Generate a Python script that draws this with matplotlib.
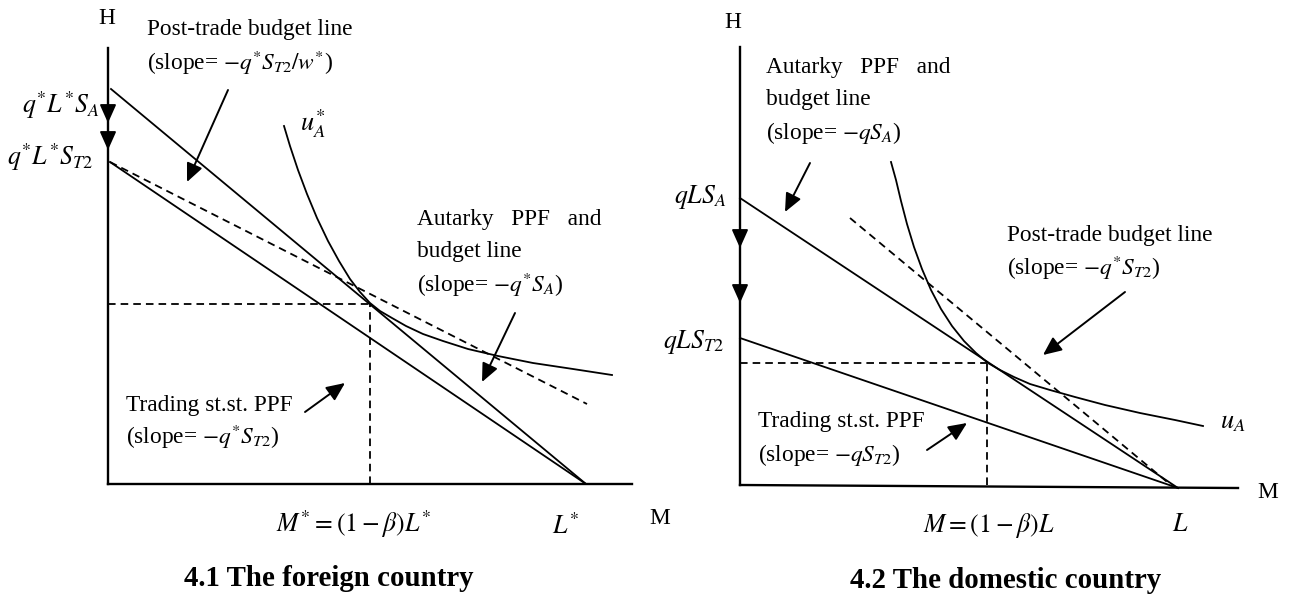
import matplotlib
matplotlib.use("Agg")
import matplotlib.pyplot as plt

plt.rcParams['font.family'] = ['Liberation Serif', 'DejaVu Serif']
plt.rcParams['mathtext.fontset'] = 'stix'

W, H = 1295, 601

# --- panel 4.1: foreign country (units = pixels from the origin) ---
f_h_top = 436
f_m_end = 524
f_SA = 395          # q*L*S_A
f_ST2 = 322         # q*L*S_T2
f_L = 478           # L*
f_Mstar = 262       # M* = (1-beta)L*
f_Hstar = 180
f_autarky_x = [3, f_L]
f_autarky_y = [f_SA, 0]
f_trade_x = [2, f_L]
f_trade_y = [f_ST2, 0]
f_post_x = [2, 479]
f_post_y = [f_ST2, 80]
f_ic_x = [176, 182, 190, 199, 209, 220, 231, 242, 252, 262, 272, 284, 298,
          315, 335, 360, 390, 425, 465, 504]
f_ic_y = [358, 338, 314, 290, 266, 243, 223, 205, 192, 181, 173, 166, 158,
          150, 143, 135, 128, 121, 115, 109]
f_arrow_steps = [395, 361, 334]

# --- panel 4.2: domestic country ---
d_h_top = 438
d_m_end = 498
d_SA = 287          # qLS_A
d_ST2 = 147         # qLS_T2
d_L = 438
d_M = 247
d_Hd = 122
d_autarky_x = [0, d_L]
d_autarky_y = [d_SA, -3]
d_trade_x = [0, d_L]
d_trade_y = [d_ST2, -3]
d_post_x = [110, 432]
d_post_y = [267, -1]
d_ic_x = [151, 156, 161, 167, 174, 182, 191, 201, 212, 224, 236, 248, 260,
          274, 290, 310, 335, 365, 400, 435, 463]
d_ic_y = [323, 305, 284, 261, 238, 216, 195, 176, 159, 144, 132, 122, 115,
          108, 101, 95, 88, 80, 72, 65, 59]
d_arrow_steps = [287, 237, 182]

fig = plt.figure(figsize=(W / 100, H / 100), dpi=100)

LW = 1.3
DASH = (0, (4.2, 2.8))
FS = 16.8
MFS = 18.5
head = dict(arrowstyle='-|>,head_length=0.56,head_width=0.25', color='black',
            lw=1.4, mutation_scale=20, shrinkA=0, shrinkB=0)


def make_axes(ox, oy, xmax, ymax):
    ax = fig.add_axes([ox / W, (H - oy) / H, xmax / W, ymax / H])
    ax.set_xlim(0, xmax)
    ax.set_ylim(0, ymax)
    ax.axis('off')
    return ax


def arrow(ax, start, end):
    ax.annotate('', xy=end, xytext=start, arrowprops=head, annotation_clip=False)


def txt(ax, x, y, s, **kw):
    kw.setdefault('fontsize', FS)
    kw.setdefault('va', 'center')
    ax.text(x, y, s, clip_on=False, **kw)


# ================= left panel =================
ax = make_axes(108, 484, f_m_end, f_h_top)
ax.plot([0, 0], [0, f_h_top], color='black', lw=1.7, clip_on=False)
ax.plot([0, f_m_end], [0, 0], color='black', lw=1.7, clip_on=False)
ax.plot(f_autarky_x, f_autarky_y, color='black', lw=LW)
ax.plot(f_trade_x, f_trade_y, color='black', lw=LW)
ax.plot(f_post_x, f_post_y, color='black', lw=LW, linestyle=DASH)
ax.plot(f_ic_x, f_ic_y, color='black', lw=LW, clip_on=False)
ax.plot([0, f_Mstar], [f_Hstar, f_Hstar], color='black', lw=LW, linestyle=DASH)
ax.plot([f_Mstar, f_Mstar], [0, f_Hstar], color='black', lw=LW, linestyle=DASH)
for a, b in zip(f_arrow_steps[:-1], f_arrow_steps[1:]):
    arrow(ax, (0, a), (0, b))

txt(ax, -1, 466, 'H', ha='center')
txt(ax, 552, -34, 'M', ha='center')
txt(ax, -9, 379, r'$q^{*}L^{*}S_{A}$', ha='right', fontsize=MFS)
txt(ax, -15, 327, r'$q^{*}L^{*}S_{T2}$', ha='right', fontsize=MFS)
txt(ax, 39, 454, 'Post-trade budget line', ha='left')
txt(ax, 39, 421, r'(slope= $-q^{*}S_{T2}/w^{*}$)', ha='left')
arrow(ax, (120, 394), (79, 302))
txt(ax, 192, 360, r'$u_{A}^{*}$', ha='left', fontsize=19)
txt(ax, 309, 264, 'Autarky   PPF   and', ha='left')
txt(ax, 309, 232, 'budget line', ha='left')
txt(ax, 309, 199, r'(slope= $-q^{*}S_{A}$)', ha='left')
arrow(ax, (407, 171), (374, 102))
txt(ax, 18, 79, 'Trading st.st. PPF', ha='left')
txt(ax, 18, 47, r'(slope= $-q^{*}S_{T2}$)', ha='left')
arrow(ax, (197, 72), (237, 101))
txt(ax, 246, -40, r'$M^{*}=(1-\beta)L^{*}$', ha='center', fontsize=MFS)
txt(ax, 458, -42, r'$L^{*}$', ha='center', fontsize=MFS)
txt(ax, 221, -94, '4.1 The foreign country', ha='center', fontsize=20.8,
    fontweight='bold')

# ================= right panel =================
ax = make_axes(740, 485, d_m_end, d_h_top)
ax.plot([0, 0], [0, d_h_top], color='black', lw=1.7, clip_on=False)
ax.plot([0, d_m_end], [0, -3], color='black', lw=1.7, clip_on=False)
ax.plot(d_autarky_x, d_autarky_y, color='black', lw=LW, clip_on=False)
ax.plot(d_trade_x, d_trade_y, color='black', lw=LW, clip_on=False)
ax.plot(d_post_x, d_post_y, color='black', lw=LW, linestyle=DASH, clip_on=False)
ax.plot(d_ic_x, d_ic_y, color='black', lw=LW, clip_on=False)
ax.plot([0, d_M], [d_Hd, d_Hd], color='black', lw=LW, linestyle=DASH)
ax.plot([d_M, d_M], [0, d_Hd], color='black', lw=LW, linestyle=DASH)
for a, b in zip(d_arrow_steps[:-1], d_arrow_steps[1:]):
    arrow(ax, (0, a), (0, b))

txt(ax, -7, 463, 'H', ha='center')
txt(ax, 528, -8, 'M', ha='center')
txt(ax, -14, 288, r'$qLS_{A}$', ha='right', fontsize=MFS)
txt(ax, -16, 143, r'$qLS_{T2}$', ha='right', fontsize=MFS)
txt(ax, 26, 417, 'Autarky   PPF   and', ha='left')
txt(ax, 26, 385, 'budget line', ha='left')
txt(ax, 26, 352, r'(slope= $-qS_{A}$)', ha='left')
arrow(ax, (70, 322), (45, 273))
txt(ax, 267, 250, 'Post-trade budget line', ha='left')
txt(ax, 267, 217, r'(slope= $-q^{*}S_{T2}$)', ha='left')
arrow(ax, (385, 193), (303, 130))
txt(ax, 480, 62, r'$u_{A}$', ha='left', fontsize=19)
txt(ax, 18, 63, 'Trading st.st. PPF', ha='left')
txt(ax, 18, 30, r'(slope= $-qS_{T2}$)', ha='left')
arrow(ax, (187, 35), (227, 62))
txt(ax, 249, -40, r'$M=(1-\beta)L$', ha='center', fontsize=MFS)
txt(ax, 440, -40, r'$L$', ha='center', fontsize=MFS)
txt(ax, 266, -95, '4.2 The domestic country', ha='center', fontsize=20.8,
    fontweight='bold')

fig.savefig('out.png', dpi=100)
